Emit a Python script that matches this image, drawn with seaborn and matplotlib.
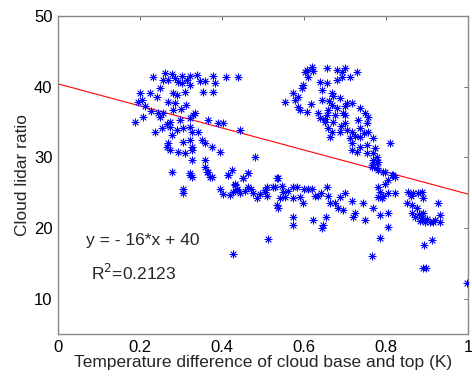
import numpy as np
import pandas as pd
import seaborn as sns
import matplotlib.pyplot as plt

# values
dT = [
    # left cluster, top rows
    0.232, 0.261, 0.278, 0.302, 0.322, 0.293, 0.302, 0.322, 0.346, 0.359, 0.378, 0.383, 0.410, 0.439,
    0.249, 0.310, 0.354, 0.378, 0.280, 0.200, 0.224, 0.241, 0.195, 0.205, 0.268, 0.285, 0.280, 0.244,
    0.255, 0.188, 0.207, 0.249, 0.273, 0.298, 0.322, 0.334, 0.366, 0.390, 0.402, 0.444,
    0.237, 0.254, 0.273, 0.290, 0.305, 0.322, 0.327, 0.341, 0.278, 0.268, 0.266, 0.305, 0.322, 0.327,
    0.351, 0.359, 0.376, 0.395, 0.273, 0.293, 0.310, 0.327, 0.327, 0.359, 0.359, 0.366, 0.376, 0.322,
    0.278, 0.424, 0.415, 0.451, 0.463, 0.432, 0.437, 0.305, 0.480,
    0.268, 0.285, 0.315, 0.338, 0.256, 0.290, 0.312, 0.265, 0.300, 0.330, 0.213, 0.226,
    # lower band
    0.322, 0.327, 0.363, 0.371, 0.415, 0.432, 0.437, 0.427, 0.402, 0.451, 0.463, 0.456, 0.463, 0.476,
    0.485, 0.505, 0.510, 0.524, 0.534, 0.534, 0.305, 0.512, 0.427,
    0.505, 0.510, 0.529, 0.537, 0.546, 0.549, 0.541, 0.537, 0.554, 0.573, 0.583, 0.573, 0.590, 0.598,
    0.610, 0.620, 0.627, 0.634, 0.656, 0.659, 0.663, 0.676, 0.688, 0.683, 0.695, 0.717, 0.724, 0.720,
    0.744, 0.749, 0.768, 0.785, 0.805, 0.805, 0.785, 0.766, 0.573, 0.573, 0.622, 0.644, 0.646, 0.654,
    0.395, 0.418, 0.444, 0.470, 0.492, 0.560, 0.600, 0.640, 0.700,
    # right upper cluster
    0.607, 0.620, 0.622, 0.602, 0.610, 0.656, 0.680, 0.693, 0.700, 0.729, 0.693, 0.712, 0.680, 0.639,
    0.656, 0.644, 0.598, 0.595, 0.573, 0.585, 0.554, 0.578, 0.585, 0.590, 0.607, 0.644, 0.668, 0.671,
    0.688, 0.705, 0.717, 0.737, 0.749, 0.756, 0.668, 0.680, 0.659, 0.634, 0.639, 0.656, 0.695, 0.700,
    0.651, 0.671, 0.700, 0.732, 0.754, 0.659, 0.668, 0.688, 0.705, 0.717, 0.737, 0.756, 0.663, 0.712,
    0.737, 0.768, 0.717, 0.737, 0.754, 0.773, 0.717, 0.729, 0.754, 0.768, 0.778, 0.768, 0.780, 0.810,
    0.766, 0.780, 0.798, 0.815, 0.822, 0.617, 0.650, 0.676, 0.690, 0.725, 0.745, 0.660, 0.700,
    0.766, 0.778, 0.778, 0.793, 0.817, 0.805, 0.798, 0.780, 0.785, 0.780, 0.793, 0.805, 0.822, 0.790,
    # right end cluster
    0.854, 0.866, 0.878, 0.888, 0.890, 0.851, 0.863, 0.876, 0.863, 0.890, 0.871, 0.888, 0.895, 0.907,
    0.920, 0.927, 0.932, 0.932, 0.912, 0.893, 0.890, 0.898, 0.998, 0.860, 0.882, 0.900, 0.915, 0.880,
]
ratio = [
    41.4, 41.9, 41.8, 41.5, 41.5, 40.7, 40.5, 40.2, 40.8, 40.8, 41.5, 40.5, 41.4, 41.4,
    39.8, 39.2, 39.2, 39.2, 39.1, 39.1, 39.1, 38.5, 37.8, 38.1, 37.8, 37.7, 36.7, 36.3,
    36.3, 35.0, 35.7, 35.7, 35.0, 35.3, 35.6, 36.3, 35.3, 34.8, 34.8, 33.9,
    33.6, 34.1, 34.3, 33.9, 34.1, 34.3, 33.6, 33.6, 33.1, 32.0, 31.5, 32.2, 32.4, 31.5,
    32.4, 32.0, 31.5, 30.7, 31.0, 30.7, 30.6, 31.0, 29.6, 29.6, 28.6, 27.9, 27.2, 27.5,
    27.9, 28.2, 27.5, 27.1, 27.8, 26.1, 25.6, 25.6, 30.0,
    41.0, 41.2, 40.9, 41.7, 40.9, 38.8, 37.4, 34.7, 36.9, 36.0, 37.2, 36.6,
    27.8, 27.2, 27.9, 27.2, 27.5, 26.3, 25.4, 25.1, 24.8, 27.1, 27.8, 25.2, 25.8, 24.9,
    24.2, 25.4, 24.6, 25.8, 27.1, 23.2, 24.9, 18.4, 16.3,
    25.1, 25.8, 25.8, 27.1, 26.0, 25.1, 24.2, 22.9, 24.4, 25.8, 25.8, 24.2, 24.4, 23.5,
    25.6, 25.6, 24.6, 24.6, 25.8, 24.6, 23.6, 23.5, 24.4, 22.8, 22.5, 23.9, 22.2, 21.5,
    23.5, 21.1, 22.8, 21.8, 22.2, 20.1, 18.6, 16.0, 21.5, 20.4, 21.2, 20.0, 20.4, 21.5,
    25.5, 24.7, 25.0, 25.6, 24.8, 25.2, 25.6, 25.0, 24.9,
    42.4, 42.8, 42.2, 42.1, 41.4, 42.6, 42.4, 42.1, 42.6, 42.1, 41.4, 41.4, 40.9, 40.7,
    40.5, 39.5, 40.2, 39.8, 39.1, 38.5, 37.8, 38.1, 37.1, 36.7, 36.4, 38.1, 39.1, 38.7,
    38.4, 37.7, 37.7, 37.0, 36.3, 35.7, 37.4, 37.0, 36.7, 36.3, 35.6, 36.0, 36.3, 36.0,
    35.0, 35.0, 34.8, 35.3, 34.8, 34.1, 33.6, 33.6, 33.9, 33.6, 34.1, 33.6, 32.9, 32.7,
    32.9, 32.7, 32.0, 31.5, 31.7, 31.3, 31.0, 30.7, 30.6, 30.6, 30.0, 29.6, 29.3, 32.0,
    28.6, 28.2, 27.9, 27.5, 27.2, 37.5, 35.5, 36.0, 34.5, 33.0, 33.5, 38.0, 37.2,
    28.9, 29.3, 28.5, 27.9, 27.5, 26.8, 26.3, 25.8, 25.1, 24.4, 24.6, 24.9, 24.9, 24.2,
    25.1, 24.9, 24.9, 25.1, 24.2, 23.5, 23.2, 22.8, 22.2, 22.2, 21.5, 21.4, 20.8, 20.8,
    21.1, 23.5, 21.8, 20.8, 18.3, 17.6, 14.3, 14.4, 12.2, 24.5, 21.0, 21.3, 20.9, 22.0,
]

# fitted line as printed in the figure
fit_x = [0.0, 1.0]
fit_coef = [-15.6, 40.4]

df = pd.DataFrame({"dT": dT, "ratio": ratio})
fit_df = pd.DataFrame({"x": fit_x, "y": [fit_coef[0] * v + fit_coef[1] for v in fit_x]})

sns.set_style("white")
plt.rcParams["font.family"] = ["Liberation Sans", "DejaVu Sans"]

fig = plt.figure(figsize=(4.72, 3.81), dpi=100)
ax = fig.add_axes([0.123, 0.123, 0.869, 0.835])

sns.lineplot(data=fit_df, x="x", y="y", color="red", linewidth=0.8, ax=ax)
sns.scatterplot(data=df, x="dT", y="ratio", marker=(8, 2, 0), color="blue",
                edgecolor="blue", s=26, linewidth=0.6, ax=ax, zorder=3)

ax.set_xlim(0, 1)
ax.set_ylim(5, 50)
ax.set_xticks([0, 0.2, 0.4, 0.6, 0.8, 1])
ax.set_xticklabels(["0", "0.2", "0.4", "0.6", "0.8", "1"])
ax.set_yticks([10, 20, 30, 40, 50])
ax.tick_params(direction="in", length=3, width=0.6, labelsize=12, colors="#555555",
               labelcolor="black", top=True, right=True, pad=4)
for s in ax.spines.values():
    s.set_color("#888888")
    s.set_linewidth(1.0)

ax.set_xlabel("Temperature difference of cloud base and top (K)", fontsize=12.5, labelpad=0)
ax.set_ylabel("Cloud lidar ratio", fontsize=12.5, labelpad=3)

ax.text(0.068, 18.2, "y = - 16*x + 40", fontsize=12.5, va="center")
ax.text(0.08, 13.6, "R$^2$=0.2123", fontsize=12.5, va="center")

plt.savefig("out.png", dpi=100)
